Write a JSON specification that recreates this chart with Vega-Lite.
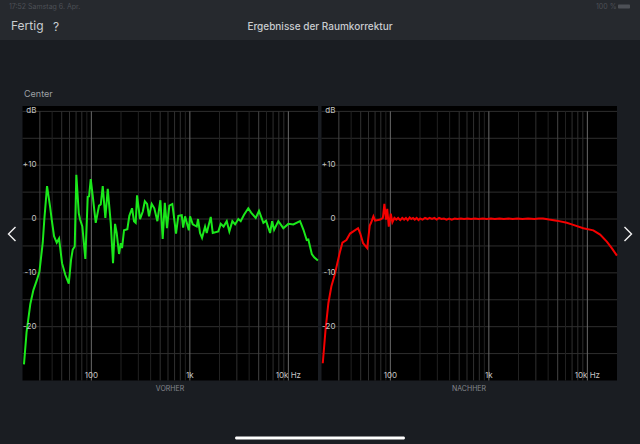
{"$schema":"https://vega.github.io/schema/vega-lite/v6.json","width":640,"height":444,"padding":0,"autosize":"none","background":"#1a1d22","config":{"view":{"stroke":null},"text":{"font":"Inter"}},
"datasets":{
"green":[{"hz":20.7,"db":-27},{"hz":22,"db":-21},{"hz":24,"db":-15.8},{"hz":25.8,"db":-13.2},{"hz":27.8,"db":-11.5},{"hz":29.7,"db":-9.8},{"hz":32.1,"db":-4.4},{"hz":33.3,"db":-0.1},{"hz":35.5,"db":6.1},{"hz":38.1,"db":2.3},{"hz":39.6,"db":-0.1},{"hz":41.8,"db":-3.2},{"hz":44.5,"db":-4.4},{"hz":47,"db":-3.6},{"hz":50.4,"db":-8.2},{"hz":54.5,"db":-10.4},{"hz":59,"db":-12},{"hz":62.2,"db":-7.6},{"hz":64.7,"db":-5.7},{"hz":67.8,"db":-5.1},{"hz":70.4,"db":8.2},{"hz":74.5,"db":1.1},{"hz":76.8,"db":-0.1},{"hz":81,"db":-1.4},{"hz":86.9,"db":-7.4},{"hz":91.9,"db":4.1},{"hz":94.8,"db":4.2},{"hz":98.6,"db":7.4},{"hz":103,"db":4.5},{"hz":110.8,"db":-0.7},{"hz":119.7,"db":2.5},{"hz":124.6,"db":2.7},{"hz":130.5,"db":6.1},{"hz":138.7,"db":0.2},{"hz":146.7,"db":5.6},{"hz":157.3,"db":-0.7},{"hz":166,"db":-8.2},{"hz":174,"db":-0.9},{"hz":181,"db":-2.6},{"hz":191,"db":-6.5},{"hz":198.9,"db":-4.5},{"hz":205,"db":-5.4},{"hz":214.6,"db":-2.1},{"hz":232,"db":-1.9},{"hz":243,"db":0.6},{"hz":259,"db":2},{"hz":271,"db":-0.4},{"hz":282,"db":-0.7},{"hz":291,"db":4.4},{"hz":312,"db":0},{"hz":333,"db":1.4},{"hz":349,"db":3.3},{"hz":368,"db":2.8},{"hz":385,"db":0.5},{"hz":410,"db":2.8},{"hz":436,"db":2},{"hz":468,"db":-0.4},{"hz":502,"db":3.5},{"hz":530,"db":-3.7},{"hz":557,"db":3},{"hz":586,"db":-1.7},{"hz":619,"db":2.5},{"hz":664,"db":2.8},{"hz":724,"db":-2.7},{"hz":764,"db":0.6},{"hz":827,"db":0.7},{"hz":855,"db":-1.6},{"hz":894,"db":0.5},{"hz":976,"db":-2.1},{"hz":1005,"db":0.5},{"hz":1070,"db":-1},{"hz":1175,"db":-1.4},{"hz":1211,"db":0},{"hz":1269,"db":-2.6},{"hz":1330,"db":-3.5},{"hz":1427,"db":-1.4},{"hz":1484,"db":-2.6},{"hz":1630,"db":0.4},{"hz":1708,"db":-2.6},{"hz":1947,"db":-2.3},{"hz":2058,"db":-0.9},{"hz":2200,"db":-1.4},{"hz":2369,"db":-0.4},{"hz":2518,"db":-2.3},{"hz":2701,"db":-0.4},{"hz":2880,"db":-1},{"hz":3105,"db":0},{"hz":3284,"db":-0.4},{"hz":3549,"db":0.8},{"hz":3921,"db":2},{"hz":4187,"db":1.2},{"hz":4666,"db":0.2},{"hz":5037,"db":1.5},{"hz":5576,"db":-0.7},{"hz":5938,"db":-0.3},{"hz":6527,"db":-2.6},{"hz":6843,"db":-0.4},{"hz":7172,"db":-2},{"hz":7915,"db":-0.4},{"hz":8891,"db":-1.7},{"hz":9997,"db":-0.9},{"hz":11240,"db":-1},{"hz":13140,"db":-0.4},{"hz":14240,"db":-2},{"hz":15360,"db":-3.9},{"hz":15970,"db":-3.8},{"hz":17300,"db":-6.5},{"hz":18290,"db":-7.1},{"hz":19960,"db":-7.7}],
"red":[{"hz":20.6,"db":-26.8},{"hz":22,"db":-20.5},{"hz":23.5,"db":-15.6},{"hz":25.2,"db":-12.5},{"hz":27.2,"db":-10.4},{"hz":30.6,"db":-6.3},{"hz":32.6,"db":-4.4},{"hz":35.8,"db":-3.9},{"hz":39,"db":-2.7},{"hz":47,"db":-1.7},{"hz":49.5,"db":-2.7},{"hz":52.9,"db":-4.5},{"hz":58.2,"db":-5.4},{"hz":61.8,"db":-1.2},{"hz":64,"db":-0.6},{"hz":67.3,"db":0.5},{"hz":70.1,"db":-0.3},{"hz":79,"db":-0.1},{"hz":84,"db":0.2},{"hz":87,"db":2.8},{"hz":90.3,"db":-0.1},{"hz":93,"db":1.9},{"hz":96.4,"db":-1.4},{"hz":101,"db":1},{"hz":104.8,"db":-0.6},{"hz":110,"db":0.2},{"hz":115,"db":-0.1},{"hz":120,"db":0.2},{"hz":126,"db":-0.2},{"hz":132,"db":0.2},{"hz":138,"db":-0.1},{"hz":144,"db":0.2},{"hz":150,"db":-0.2},{"hz":157,"db":0.3},{"hz":163,"db":0},{"hz":170,"db":0.2},{"hz":177,"db":-0.1},{"hz":185,"db":0.2},{"hz":193,"db":-0.2},{"hz":201,"db":0.1},{"hz":212,"db":-0.1},{"hz":225,"db":0.2},{"hz":238,"db":0},{"hz":250,"db":0.2},{"hz":265,"db":0},{"hz":280,"db":0.2},{"hz":295,"db":-0.1},{"hz":312,"db":0.2},{"hz":330,"db":0},{"hz":350,"db":0.1},{"hz":372,"db":-0.1},{"hz":395,"db":0.1},{"hz":420,"db":-0.1},{"hz":450,"db":0.1},{"hz":480,"db":0},{"hz":520,"db":0.1},{"hz":560,"db":0},{"hz":610,"db":0.1},{"hz":660,"db":0},{"hz":720,"db":0.1},{"hz":790,"db":0},{"hz":870,"db":0.1},{"hz":950,"db":0},{"hz":1050,"db":0.1},{"hz":1150,"db":0},{"hz":1280,"db":0.1},{"hz":1420,"db":0},{"hz":1580,"db":0.1},{"hz":1750,"db":0},{"hz":1950,"db":0.1},{"hz":2200,"db":0},{"hz":2500,"db":0.1},{"hz":2900,"db":0},{"hz":3200,"db":0.1},{"hz":3550,"db":0.1},{"hz":4100,"db":-0.1},{"hz":4880,"db":-0.3},{"hz":6180,"db":-0.7},{"hz":6940,"db":-1},{"hz":9100,"db":-1.7},{"hz":11500,"db":-2.1},{"hz":13480,"db":-2.9},{"hz":15760,"db":-4.2},{"hz":17700,"db":-5.4},{"hz":19960,"db":-6.8}],
"panel":[{"from":20,"to":20000,"low":-30,"high":21}],
"hzLines":[{"hz":30,"tier":"stark"},{"hz":40,"tier":"schwach"},{"hz":50,"tier":"mittel"},{"hz":60,"tier":"mittel"},{"hz":70,"tier":"mittel"},{"hz":80,"tier":"mittel"},{"hz":90,"tier":"schwach"},{"hz":100,"tier":"dekade"},{"hz":200,"tier":"schwach"},{"hz":300,"tier":"schwach"},{"hz":400,"tier":"schwach"},{"hz":500,"tier":"mittel"},{"hz":600,"tier":"mittel"},{"hz":700,"tier":"mittel"},{"hz":800,"tier":"mittel"},{"hz":900,"tier":"schwach"},{"hz":1000,"tier":"dekade"},{"hz":2000,"tier":"schwach"},{"hz":3000,"tier":"mittel"},{"hz":4000,"tier":"schwach"},{"hz":5000,"tier":"stark"},{"hz":6000,"tier":"schwach"},{"hz":7000,"tier":"mittel"},{"hz":8000,"tier":"mittel"},{"hz":9000,"tier":"mittel"},{"hz":10000,"tier":"dekade"}],
"dbLines":[{"db":20},{"db":15},{"db":10},{"db":5},{"db":0},{"db":-5},{"db":-10},{"db":-15},{"db":-20},{"db":-25}],
"dbLabels":[{"db":20,"label":"dB"},{"db":10,"label":"+10"},{"db":0,"label":"0"},{"db":-10,"label":"-10"},{"db":-20,"label":"-20"}],
"hzLabels":[{"hz":100,"label":"100"},{"hz":1000,"label":"1k"},{"hz":10000,"label":"10k Hz"}]
},
"resolve":{"scale":{"x":"independent","y":"independent","color":"independent"}},
"layer":[
{"data":{"values":[{"part":"bar"}]},"mark":{"type":"rect","color":"#26292e"},"encoding":{"y":{"field":"part","type":"nominal","axis":null,"scale":{"type":"band","domain":["bar"],"range":[0,40],"paddingInner":0,"paddingOuter":0}}}},
{"data":{"values":[{"t":"Fertig"},{"t":"?"}]},"mark":{"type":"text","align":"left","fontSize":12,"color":"#c9ccd0"},"encoding":{"text":{"field":"t"},"x":{"field":"t","type":"nominal","axis":null,"scale":{"type":"point","padding":0,"domain":["Fertig","?"],"range":[11,53]}},"y":{"field":"t","type":"nominal","axis":null,"scale":{"type":"point","padding":0,"domain":["Fertig","?"],"range":[26,27]}}}},
{"data":{"values":[{"t":"Ergebnisse der Raumkorrektur"}]},"mark":{"type":"text","align":"center","fontSize":10,"fontWeight":500,"color":"#c9ccd0"},"encoding":{"text":{"field":"t"},"x":{"field":"t","type":"nominal","axis":null,"scale":{"type":"point","padding":0,"domain":["Ergebnisse der Raumkorrektur"],"range":[320,320]}},"y":{"field":"t","type":"nominal","axis":null,"scale":{"type":"point","padding":0,"domain":["Ergebnisse der Raumkorrektur"],"range":[26.5,26.5]}}}},
{"data":{"values":[{"t":"17:52  Samstag 6. Apr."}]},"mark":{"type":"text","align":"left","fontSize":7,"color":"#4d5056"},"encoding":{"text":{"field":"t"},"x":{"field":"t","type":"nominal","axis":null,"scale":{"type":"point","padding":0,"domain":["17:52  Samstag 6. Apr."],"range":[9,9]}},"y":{"field":"t","type":"nominal","axis":null,"scale":{"type":"point","padding":0,"domain":["17:52  Samstag 6. Apr."],"range":[6.5,6.5]}}}},
{"data":{"values":[{"t":"100 %"}]},"mark":{"type":"text","align":"left","fontSize":7,"color":"#4d5056"},"encoding":{"text":{"field":"t"},"x":{"field":"t","type":"nominal","axis":null,"scale":{"type":"point","padding":0,"domain":["100 %"],"range":[596,596]}},"y":{"field":"t","type":"nominal","axis":null,"scale":{"type":"point","padding":0,"domain":["100 %"],"range":[6.5,6.5]}}}},
{"data":{"values":[{"part":"akku"}]},"mark":{"type":"rect","color":"#4d5056","cornerRadius":1},"encoding":{"x":{"field":"part","type":"nominal","axis":null,"scale":{"type":"band","domain":["akku"],"range":[618,630],"paddingInner":0,"paddingOuter":0}},"y":{"field":"part","type":"nominal","axis":null,"scale":{"type":"band","domain":["akku"],"range":[4.5,8.5],"paddingInner":0,"paddingOuter":0}}}},
{"data":{"values":[{"t":"Center"}]},"mark":{"type":"text","align":"left","fontSize":9,"color":"#9da0a5"},"encoding":{"text":{"field":"t"},"x":{"field":"t","type":"nominal","axis":null,"scale":{"type":"point","padding":0,"domain":["Center"],"range":[24,24]}},"y":{"field":"t","type":"nominal","axis":null,"scale":{"type":"point","padding":0,"domain":["Center"],"range":[94,94]}}}},
{"data":{"values":[{"t":"VORHER"},{"t":"NACHHER"}]},"mark":{"type":"text","align":"center","fontSize":7,"color":"#85888e"},"encoding":{"text":{"field":"t"},"x":{"field":"t","type":"nominal","axis":null,"scale":{"type":"point","padding":0,"domain":["VORHER","NACHHER"],"range":[170,469]}},"y":{"field":"t","type":"nominal","axis":null,"scale":{"type":"point","padding":0,"domain":["VORHER","NACHHER"],"range":[388.5,388.5]}}}},
{"data":{"values":[{"dir":"zurück"},{"dir":"weiter"}]},"mark":{"type":"point","filled":false,"size":196,"strokeWidth":1.4,"opacity":1,"color":"#f2f2f2"},"encoding":{"shape":{"field":"dir","type":"nominal","legend":null,"scale":{"domain":["zurück","weiter"],"range":["M0.5,-1L-0.5,0L0.5,1","M-0.5,-1L0.5,0L-0.5,1"]}},"x":{"field":"dir","type":"nominal","axis":null,"scale":{"type":"point","padding":0,"domain":["zurück","weiter"],"range":[12,628]}},"y":{"field":"dir","type":"nominal","axis":null,"scale":{"type":"point","padding":0,"domain":["zurück","weiter"],"range":[234,234]}}}},
{"data":{"values":[{"part":"home"}]},"mark":{"type":"rect","color":"#ffffff","cornerRadius":1.5},"encoding":{"x":{"field":"part","type":"nominal","axis":null,"scale":{"type":"band","domain":["home"],"range":[235,405],"paddingInner":0,"paddingOuter":0}},"y":{"field":"part","type":"nominal","axis":null,"scale":{"type":"band","domain":["home"],"range":[436.5,439.5],"paddingInner":0,"paddingOuter":0}}}},
{"layer":[
{"data":{"name":"panel"},"mark":{"type":"rect","color":"#000000"},"encoding":{"x":{"field":"from","type":"quantitative","axis":null,"scale":{"type":"log","domain":[20,20000],"range":[22.5,318]}},"x2":{"field":"to"},"y":{"field":"low","type":"quantitative","axis":null,"scale":{"domain":[-30,21],"range":[380.5,106]}},"y2":{"field":"high"}}},
{"data":{"name":"dbLines"},"mark":{"type":"rule","color":"#333333","strokeWidth":0.9},"encoding":{"y":{"field":"db","type":"quantitative","axis":null,"scale":{"domain":[-30,21],"range":[380.5,106]}},"x":{"datum":20,"type":"quantitative","axis":null,"scale":{"type":"log","domain":[20,20000],"range":[22.5,318]}},"x2":{"datum":20000}}},
{"data":{"name":"hzLines"},"mark":{"type":"rule","strokeWidth":1},"encoding":{"x":{"field":"hz","type":"quantitative","axis":null,"scale":{"type":"log","domain":[20,20000],"range":[22.5,318]}},"y":{"datum":-30,"type":"quantitative","axis":null,"scale":{"domain":[-30,21],"range":[380.5,106]}},"y2":{"datum":20},"color":{"field":"tier","type":"nominal","legend":null,"scale":{"domain":["schwach","mittel","stark","dekade"],"range":["#222222","#303030","#444444","#6a6a6a"]}}}},
{"data":{"name":"green"},"mark":{"type":"line","color":"#1be81b","strokeWidth":2,"interpolate":"linear"},"encoding":{"x":{"field":"hz","type":"quantitative","axis":null,"scale":{"type":"log","domain":[20,20000],"range":[22.5,318]}},"y":{"field":"db","type":"quantitative","axis":null,"scale":{"domain":[-30,21],"range":[380.5,106]}}}},
{"data":{"name":"dbLabels"},"mark":{"type":"text","align":"right","fontSize":8,"color":"#c4c4c4"},"encoding":{"text":{"field":"label"},"y":{"field":"db","type":"quantitative","axis":null,"scale":{"domain":[-30,21],"range":[380.5,106]}},"x":{"datum":27.7,"type":"quantitative","axis":null,"scale":{"type":"log","domain":[20,20000],"range":[22.5,318]}}}},
{"data":{"name":"hzLabels"},"mark":{"type":"text","align":"center","fontSize":8,"color":"#c4c4c4"},"encoding":{"text":{"field":"label"},"x":{"field":"hz","type":"quantitative","axis":null,"scale":{"type":"log","domain":[20,20000],"range":[22.5,318]}},"y":{"datum":-29.2,"type":"quantitative","axis":null,"scale":{"domain":[-30,21],"range":[380.5,106]}}}}
]},
{"layer":[
{"data":{"name":"panel"},"mark":{"type":"rect","color":"#000000"},"encoding":{"x":{"field":"from","type":"quantitative","axis":null,"scale":{"type":"log","domain":[20,20000],"range":[321.5,617]}},"x2":{"field":"to"},"y":{"field":"low","type":"quantitative","axis":null,"scale":{"domain":[-30,21],"range":[380.5,106]}},"y2":{"field":"high"}}},
{"data":{"name":"dbLines"},"mark":{"type":"rule","color":"#333333","strokeWidth":0.9},"encoding":{"y":{"field":"db","type":"quantitative","axis":null,"scale":{"domain":[-30,21],"range":[380.5,106]}},"x":{"datum":20,"type":"quantitative","axis":null,"scale":{"type":"log","domain":[20,20000],"range":[321.5,617]}},"x2":{"datum":20000}}},
{"data":{"name":"hzLines"},"mark":{"type":"rule","strokeWidth":1},"encoding":{"x":{"field":"hz","type":"quantitative","axis":null,"scale":{"type":"log","domain":[20,20000],"range":[321.5,617]}},"y":{"datum":-30,"type":"quantitative","axis":null,"scale":{"domain":[-30,21],"range":[380.5,106]}},"y2":{"datum":20},"color":{"field":"tier","type":"nominal","legend":null,"scale":{"domain":["schwach","mittel","stark","dekade"],"range":["#222222","#303030","#444444","#6a6a6a"]}}}},
{"data":{"name":"red"},"mark":{"type":"line","color":"#f50000","strokeWidth":2,"interpolate":"linear"},"encoding":{"x":{"field":"hz","type":"quantitative","axis":null,"scale":{"type":"log","domain":[20,20000],"range":[321.5,617]}},"y":{"field":"db","type":"quantitative","axis":null,"scale":{"domain":[-30,21],"range":[380.5,106]}}}},
{"data":{"name":"dbLabels"},"mark":{"type":"text","align":"right","fontSize":8,"color":"#c4c4c4"},"encoding":{"text":{"field":"label"},"y":{"field":"db","type":"quantitative","axis":null,"scale":{"domain":[-30,21],"range":[380.5,106]}},"x":{"datum":27.7,"type":"quantitative","axis":null,"scale":{"type":"log","domain":[20,20000],"range":[321.5,617]}}}},
{"data":{"name":"hzLabels"},"mark":{"type":"text","align":"center","fontSize":8,"color":"#c4c4c4"},"encoding":{"text":{"field":"label"},"x":{"field":"hz","type":"quantitative","axis":null,"scale":{"type":"log","domain":[20,20000],"range":[321.5,617]}},"y":{"datum":-29.2,"type":"quantitative","axis":null,"scale":{"domain":[-30,21],"range":[380.5,106]}}}}
]}
]}
